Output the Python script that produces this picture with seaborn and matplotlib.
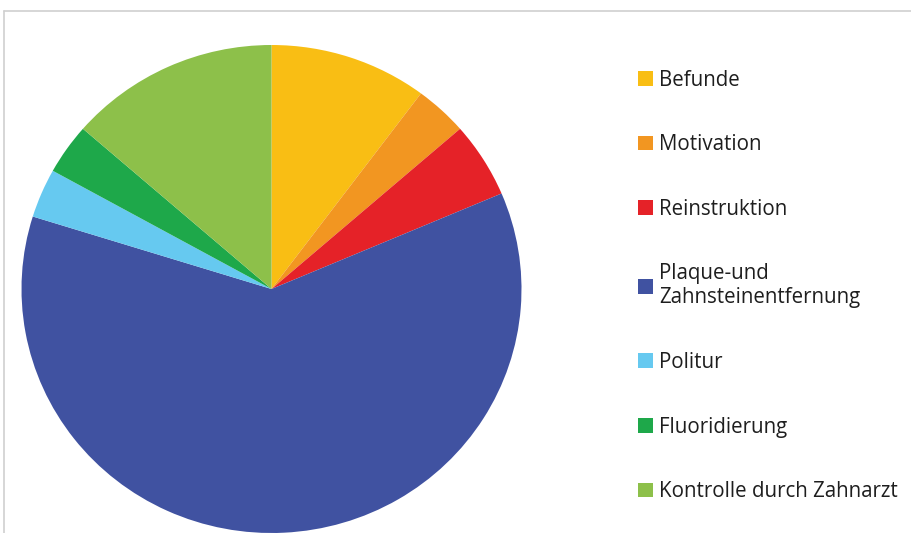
import matplotlib
matplotlib.use("Agg")
import matplotlib.pyplot as plt
import seaborn as sns
from matplotlib.patches import Patch
from matplotlib.lines import Line2D

sns.set_theme(style="white")
plt.rcParams['font.family'] = ['Open Sans', 'DejaVu Sans']

labels = ["Befunde", "Motivation", "Reinstruktion", "Plaque-und\nZahnsteinentfernung",
          "Politur", "Fluoridierung", "Kontrolle durch Zahnarzt"]
values = [10.2, 3.4, 5.0, 61.2, 3.25, 3.35, 13.6]
colors = ["#F9BE14", "#F29621", "#E52228", "#4052A1", "#66C9F0", "#1EA84A", "#8DC04A"]

W, H = 911, 533
fig = plt.figure(figsize=(W / 100, H / 100), dpi=100)
fig.patch.set_facecolor("white")

cx, cy, rx, ry = 271.5, 289, 250, 244
ax = fig.add_axes([(cx - rx) / W, (H - cy - ry) / H, 2 * rx / W, 2 * ry / H])
ax.pie(values, colors=colors, startangle=90, counterclock=False,
       wedgeprops=dict(linewidth=0))
ax.set_xlim(-1, 1)
ax.set_ylim(-1, 1)
ax.set_aspect("auto")
ax.axis("off")

handles = [Patch(facecolor=c, edgecolor="none") for c in colors]
fig.legend(handles, labels, loc="upper left", bbox_to_anchor=(619 / W, 1 - 51 / H),
           frameon=False, fontsize=14.8, labelspacing=2.12, handlelength=0.73,
           handleheight=0.73, handletextpad=0.33, labelcolor="#1e1e1e")

border = "#cfcfcf"
fig.add_artist(Line2D([4 / W, 1], [1 - 11 / H, 1 - 11 / H], transform=fig.transFigure,
                      color=border, linewidth=1.2))
fig.add_artist(Line2D([4 / W, 4 / W], [0, 1 - 11 / H], transform=fig.transFigure,
                      color=border, linewidth=1.2))

fig.savefig("out.png", dpi=100, facecolor="white")
